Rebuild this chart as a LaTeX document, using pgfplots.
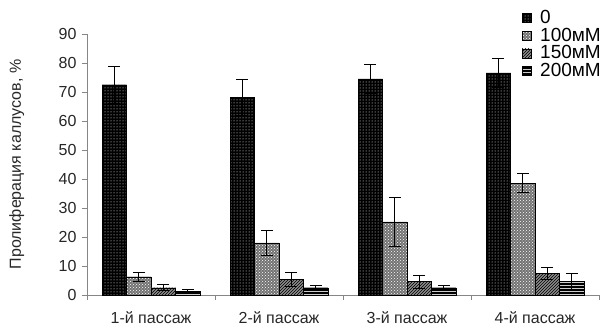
\documentclass[border=0pt]{standalone}
\usepackage{pgfplots}
\pgfplotsset{compat=1.18}
\usepackage{pgfplotstable}
\usetikzlibrary{patterns}
\usepackage{fontspec}
\setmainfont{Liberation Sans}
\definecolor{axgray}{RGB}{134,134,134}
\pgfplotstableread{
x y e
1 72.5 6.4
2 68.2 6.3
3 74.5 4.9
4 76.6 5.0
}\tzero
\pgfplotstableread{
x y e
1 6.3 1.5
2 18.0 4.3
3 25.2 8.4
4 38.6 3.3
}\tone
\pgfplotstableread{
x y e
1 2.5 1.0
2 5.4 2.5
3 4.6 2.3
4 7.4 2.0
}\ttwo
\pgfplotstableread{
x y e
1 1.2 0.8
2 2.5 0.9
3 2.5 0.9
4 4.8 2.7
}\tthree
\begin{document}
\fontsize{16}{18}\selectfont
\begin{tikzpicture}[x=1pt,y=1pt]
\path[use as bounding box] (0,0) rectangle (604,331);
\begin{axis}[
  at={(87pt,36pt)}, anchor=south west,
  scale only axis, width=512pt, height=261pt,
  ymin=0, ymax=90, ytick={0,10,...,90},
  xmin=0.5, xmax=4.5,
  axis x line*=bottom, axis y line*=left,
  axis line style={axgray, -},
  xtick={1,2,3,4},
  xticklabels={1-й пассаж,2-й пассаж,3-й пассаж,4-й пассаж},
  minor xtick={0.5,1.5,2.5,3.5,4.5},
  major x tick style={draw=none},
  minor x tick style={axgray},
  y tick style={axgray},
  tick align=outside,
  major tick length=5pt, minor tick length=5pt,
  tick label style={font=\fontsize{16}{18}\selectfont, text=black!85},
  xticklabel style={yshift=-6pt},
  /pgf/number format/assume math mode=true,
  ylabel={Пролиферация каллусов, \%},
  ylabel style={font=\fontsize{16}{18}\selectfont, text=black!85,
    at={(axis description cs:-0.137,0.5)}, anchor=center},
  ybar=0pt, bar width=24.5pt,
  error bars/error bar style={black, line width=0.8pt},
  error bars/error mark options={rotate=90, mark size=6pt, line width=0.8pt},
  legend style={at={(1,1)}, anchor=north east, yshift=25pt, xshift=3pt, draw=none, fill=none,
    font=\fontsize{19}{21}\selectfont, row sep=0pt, inner sep=0pt,
    nodes={inner sep=1pt}},
  legend cell align=left,
  legend image code/.code={\draw[#1] (0pt,-4.5pt) rectangle (9pt,4.5pt); \path (17pt,0pt);},
  clip=false,
]
\addplot[draw=black, fill=black, postaction={pattern=dots, pattern color=white},
  error bars/.cd, y dir=both, y explicit] table[x=x, y=y, y error=e] {\tzero};
\addplot[draw=black, fill=black!55, postaction={pattern=crosshatch dots, pattern color=white},
  error bars/.cd, y dir=both, y explicit] table[x=x, y=y, y error=e] {\tone};
\addplot[draw=black, fill=black!45, postaction={pattern=north east lines, pattern color=black},
  error bars/.cd, y dir=both, y explicit] table[x=x, y=y, y error=e] {\ttwo};
\addplot[draw=black, fill=black, postaction={pattern=horizontal lines, pattern color=white!80!black},
  error bars/.cd, y dir=both, y explicit] table[x=x, y=y, y error=e] {\tthree};
\legend{0,100мМ,150мМ,200мМ}
\end{axis}
\end{tikzpicture}
\end{document}
